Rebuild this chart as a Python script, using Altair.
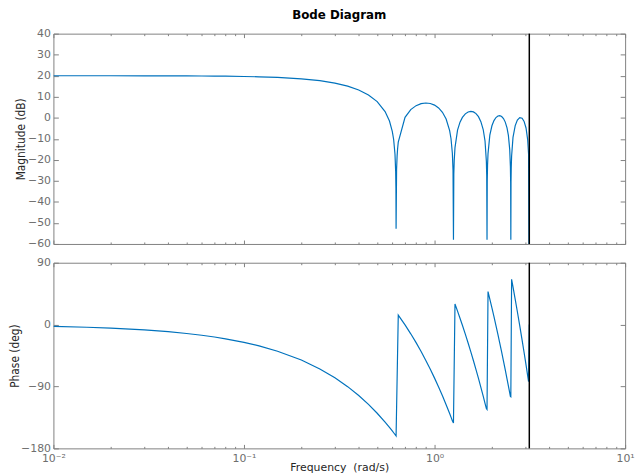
import altair as alt
import pandas as pd

# magnitude curve samples: frequency (rad/s), dB
freq_mag = [0.01, 0.015, 0.02, 0.03, 0.04, 0.05, 0.06, 0.07, 0.08, 0.1, 0.12, 0.15,
            0.2, 0.25, 0.3, 0.35, 0.4, 0.45, 0.5, 0.55, 0.58, 0.6, 0.61, 0.62, 0.625,
            0.627, 0.6282,
            0.632, 0.636, 0.64, 0.645, 0.7, 0.75, 0.8, 0.85, 0.9, 0.95, 1.0, 1.05, 1.1,
            1.15, 1.2, 1.22, 1.24, 1.25, 1.2566,
            1.262, 1.268, 1.28, 1.32, 1.36, 1.4, 1.45, 1.5, 1.55, 1.6, 1.65, 1.7, 1.75,
            1.8, 1.84, 1.87, 1.878, 1.885,
            1.89, 1.897, 1.908, 1.95, 2.0, 2.05, 2.1, 2.15, 2.2, 2.25, 2.3, 2.35, 2.4,
            2.44, 2.48, 2.5, 2.508, 2.5133,
            2.519, 2.526, 2.537, 2.58, 2.65, 2.72, 2.8, 2.88, 2.95, 3.02, 3.08, 3.114,
            3.1416]

mag_db = [20.00, 19.99, 19.99, 19.97, 19.94, 19.91, 19.87, 19.82, 19.77, 19.64, 19.48, 19.18,
          18.52, 17.63, 16.49, 15.04, 13.21, 10.85, 7.67, 2.96, -1.55, -6.42, -10.33, -17.31, -25.36,
          -33.40, -52.8,
          -24.55, -18.22, -14.63, -11.61, 0.20, 3.87, 5.77, 6.73, 7.03, 6.79, 6.02, 4.68, 2.61,
          -0.59, -6.11, -9.95, -16.89, -24.93, -58.0,
          -26.85, -20.37, -14.19, -5.88, -2.09, 0.17, 1.87, 2.77, 3.05, 2.79, 1.98, 0.53, -1.83,
          -5.58, -11.05, -20.64, -27.31, -58.0,
          -30.14, -22.61, -17.02, -8.27, -3.79, -1.32, 0.12, 0.85, 1.00, 0.61, -0.36, -2.05, -4.80,
          -8.37, -15.13, -23.11, -31.14, -58.0,
          -30.44, -23.51, -18.28, -9.35, -3.73, -1.12, 0.05, -0.23, -1.71, -4.85, -10.36, -17.23,
          -100.0]

# phase curve samples: frequency (rad/s), degrees
freq_ph = [0.01, 0.015, 0.02, 0.03, 0.04, 0.05, 0.06, 0.07, 0.08, 0.1, 0.12, 0.15,
           0.2, 0.25, 0.3, 0.35, 0.4, 0.45, 0.5, 0.55, 0.58, 0.6, 0.61, 0.62, 0.625,
           0.627, 0.6282,
           0.645, 0.7, 0.75, 0.8, 0.85, 0.9, 0.95, 1.0, 1.05, 1.1, 1.15, 1.2, 1.22,
           1.24, 1.2566,
           1.28, 1.32, 1.36, 1.4, 1.45, 1.5, 1.55, 1.6, 1.65, 1.7, 1.75, 1.8, 1.84,
           1.87, 1.885,
           1.908, 1.95, 2.0, 2.05, 2.1, 2.15, 2.2, 2.25, 2.3, 2.35, 2.4, 2.44, 2.48,
           2.5, 2.5133,
           2.537, 2.58, 2.65, 2.72, 2.8, 2.88, 2.95, 3.02, 3.08, 3.114, 3.1416]

phase_deg = [-2.58, -3.87, -5.16, -7.73, -10.31, -12.89, -15.47, -18.05, -20.63, -25.78, -30.94, -38.67,
             -51.57, -64.46, -77.35, -90.24, -103.13, -116.02, -128.92, -141.81, -149.54, -154.70, -157.28, -159.85, -161.14,
             -161.66, -161.97,
             13.70, -0.48, -13.37, -26.26, -39.16, -52.05, -64.94, -77.83, -90.72, -103.61, -116.50, -129.40, -134.55,
             -139.71, -143.0,
             30.0, 19.66, 9.35, -0.96, -13.85, -26.75, -39.64, -52.53, -65.42, -78.31, -91.20, -104.09, -114.41,
             -122.14, -123.5,
             48.06, 37.23, 24.34, 11.45, -1.44, -14.33, -27.23, -40.12, -53.01, -65.90, -78.79, -89.11, -99.42,
             -104.58, -105.0,
             65.99, 54.80, 36.75, 18.70, -1.92, -22.55, -40.60, -58.65, -74.12, -82.88, 0.0]

nyquist = [3.1416]

mag_ticks = [-60, -50, -40, -30, -20, -10, 0, 10, 20, 30, 40]
phase_ticks = [-180, -90, 0, 90]
x_major = [0.01, 0.1, 1, 10]
x_major_labels = ["10\u207b\u00b2", "10\u207b\u00b9", "10\u2070", "10\u00b9"]
x_minor = [0.02, 0.03, 0.04, 0.05, 0.06, 0.07, 0.08, 0.09,
           0.2, 0.3, 0.4, 0.5, 0.6, 0.7, 0.8, 0.9,
           2, 3, 4, 5, 6, 7, 8, 9]

df_mag = pd.DataFrame({"w": freq_mag, "v": mag_db})
df_ph = pd.DataFrame({"w": freq_ph, "v": phase_deg})
df_ny = pd.DataFrame({"w": nyquist})

W = 579
AX = "#808080"
LBL = "#6e6e6e"
FONT = "DejaVu Sans"
VFONT = "DejaVu Sans Condensed"

label_expr = " : ".join(
    f"datum.value == {v} ? '{s}'" for v, s in zip(x_major[:-1], x_major_labels[:-1])
) + f" : '{x_major_labels[-1]}'"

xscale = alt.Scale(type="log", domain=[0.01, 10])


def tick_axis(orient, offset, values, size):
    return alt.Axis(orient=orient, offset=offset, values=values, tickSize=size,
                    tickColor=AX, tickWidth=1, labels=False, domain=False,
                    grid=False, title=None, minExtent=0)


def panel(df, domain, yticks, height, ytitle, title_x, bottom):
    yscale = alt.Scale(domain=domain, nice=False, zero=False)
    base = alt.Chart(df)
    if bottom:
        xaxis = alt.Axis(orient="bottom", values=x_major, labelExpr=label_expr,
                         ticks=False, tickSize=0, domain=False, grid=False,
                         labelFont=FONT, labelFontSize=11, labelColor=LBL,
                         labelPadding=4, labelFlush=False, labelOverlap=False,
                         title="Frequency\u00a0 (rad/s)", titleFont=FONT,
                         titleFontSize=11, titleFontWeight="normal",
                         titleColor="#262626", titleY=19, titleBaseline="middle")
    else:
        xaxis = None
    yaxis = alt.Axis(values=yticks, ticks=False, tickSize=0, domain=False, grid=False,
                     labelFont=FONT, labelFontSize=11, labelColor=LBL, labelPadding=3,
                     labelOverlap=False, labelFlush=False,
                     title=ytitle, titleFont=VFONT, titleFontSize=12,
                     titleFontWeight="normal", titleColor="#262626",
                     titleX=title_x, titleBaseline="middle")
    line = base.mark_line(color="#0072BD", strokeWidth=1.2, clip=True).encode(
        x=alt.X("w:Q", scale=xscale, axis=xaxis),
        y=alt.Y("v:Q", scale=yscale, axis=yaxis),
    )
    layers = [line]
    hidden = dict(strokeOpacity=0, clip=True)
    # inward ticks: bottom edge (major) + left edge
    layers.append(base.mark_line(**hidden).encode(
        x=alt.X("w:Q", scale=xscale, axis=tick_axis("top", -height, x_major, 4)),
        y=alt.Y("v:Q", scale=yscale, axis=tick_axis("right", -W, yticks, 5)),
    ))
    # inward ticks: bottom edge (minor) + right edge
    layers.append(base.mark_line(**hidden).encode(
        x=alt.X("w:Q", scale=xscale, axis=tick_axis("top", -height, x_minor, 2)),
        y=alt.Y("v:Q", scale=yscale, axis=tick_axis("left", -W, yticks, 5)),
    ))
    # inward ticks on top edge
    layers.append(base.mark_line(**hidden).encode(
        x=alt.X("w:Q", scale=xscale, axis=tick_axis("bottom", -height, x_major, 4)),
        y=alt.Y("v:Q", scale=yscale, axis=None),
    ))
    layers.append(base.mark_line(**hidden).encode(
        x=alt.X("w:Q", scale=xscale, axis=tick_axis("bottom", -height, x_minor, 2)),
        y=alt.Y("v:Q", scale=yscale, axis=None),
    ))
    rule = alt.Chart(df_ny).mark_rule(color="black", strokeWidth=1.5).encode(
        x=alt.X("w:Q", scale=xscale, axis=None)
    )
    layers.append(rule)
    return alt.layer(*layers).resolve_axis(x="independent", y="independent").properties(
        width=W, height=height
    )


top = panel(df_mag, [-60, 40], mag_ticks, 213, "Magnitude (dB)", -33, False).properties(
    title=alt.Title("Bode Diagram", font=FONT, fontSize=12, fontWeight="bold",
                    color="black", frame="group", anchor="middle", offset=6)
)
bottom = panel(df_ph, [-180, 90], phase_ticks, 188, "Phase (deg)", -39, True)

chart = alt.vconcat(top, bottom, spacing=6).properties(
    padding={"left": 0, "top": -3, "right": 0, "bottom": 0}
).configure_view(stroke=AX, strokeWidth=1)

chart.save("out.html", embed_options={"renderer": "svg", "actions": False})
